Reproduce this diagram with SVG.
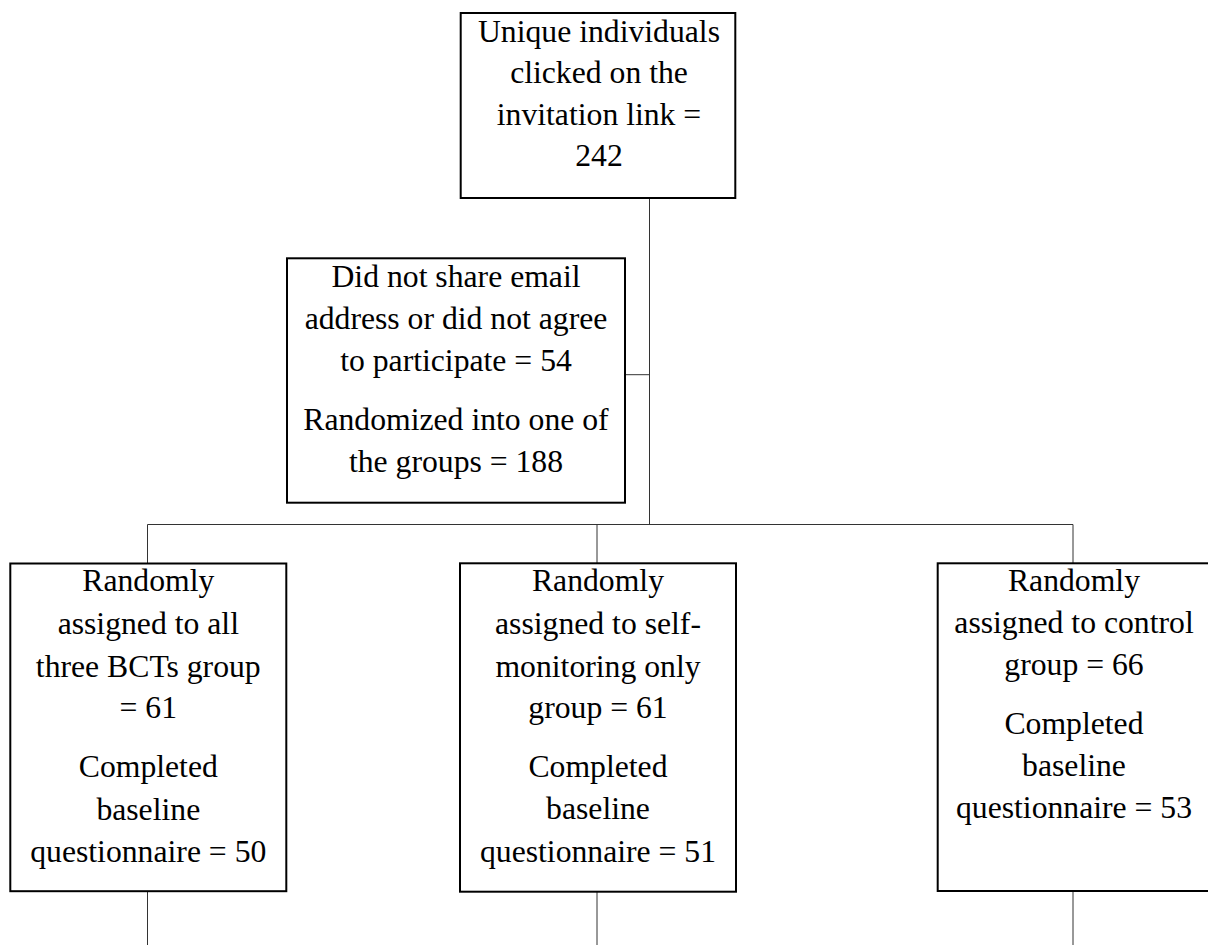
<svg xmlns="http://www.w3.org/2000/svg" width="1208" height="945" viewBox="0 0 1208 945">
<style>
.box{fill:#fff;stroke:#000;stroke-width:2}
.con{fill:none;stroke:#333;stroke-width:1}
text{font-family:"Liberation Serif","Times New Roman",serif;font-size:31.7px;fill:#000;text-anchor:middle}
</style>
<rect width="1208" height="945" fill="#fff"/>
<g id="connectors">
<path class="con" d="M649.5 198V524.5M626 374.7H649.5M147.5 524.5H1073M147.5 524.5V563M597 524.5V563M1073 524.5V563M147.5 892V945M597 892V945M1073 892V945"/>
</g>
<g id="n-top">
<rect class="box" x="460.7" y="13" width="274.6" height="185"/>
<text x="599" y="41.8">Unique individuals</text>
<text x="599" y="83">clicked on the</text>
<text x="599" y="124.8">invitation link =</text>
<text x="599" y="166">242</text>
</g>
<g id="n-excluded">
<rect class="box" x="287" y="258.3" width="338" height="244.4"/>
<text x="456" y="286.7">Did not share email</text>
<text x="456" y="329">address or did not agree</text>
<text x="456" y="370.7">to participate = 54</text>
<text x="456" y="430">Randomized into one of</text>
<text x="456" y="471.7">the groups = 188</text>
</g>
<g id="n-all">
<rect class="box" x="10.3" y="563.5" width="276" height="327.7"/>
<text x="148.3" y="590.7">Randomly</text>
<text x="148.3" y="634">assigned to all</text>
<text x="148.3" y="676.5">three BCTs group</text>
<text x="148.3" y="718">= 61</text>
<text x="148.3" y="777">Completed</text>
<text x="148.3" y="819.5">baseline</text>
<text x="148.3" y="862">questionnaire = 50</text>
</g>
<g id="n-self">
<rect class="box" x="460" y="563.3" width="276" height="328.4"/>
<text x="598" y="590.7">Randomly</text>
<text x="598" y="634">assigned to self-</text>
<text x="598" y="676.5">monitoring only</text>
<text x="598" y="718">group = 61</text>
<text x="598" y="777">Completed</text>
<text x="598" y="819">baseline</text>
<text x="598" y="861.7">questionnaire = 51</text>
</g>
<g id="n-control">
<rect class="box" x="937.7" y="563.3" width="276" height="327.7"/>
<text x="1074" y="590.7">Randomly</text>
<text x="1074" y="633">assigned to control</text>
<text x="1074" y="675">group = 66</text>
<text x="1074" y="733.5">Completed</text>
<text x="1074" y="776">baseline</text>
<text x="1074" y="818">questionnaire = 53</text>
</g>
</svg>
